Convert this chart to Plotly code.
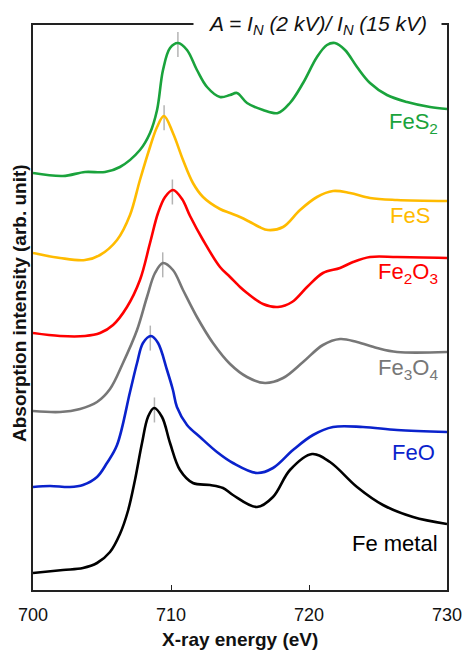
import numpy as np
import plotly.graph_objects as go

# ---------------- data ----------------
names = ["FeS<sub>2</sub>", "FeS", "Fe<sub>2</sub>O<sub>3</sub>", "Fe<sub>3</sub>O<sub>4</sub>", "FeO", "Fe metal"]
colors = ["#1aa33c", "#ffbb00", "#ff0000", "#777777", "#0a22cc", "#000000"]

energy_fes2 = [700.0, 702.17, 703.77, 705.22, 706.30, 707.75, 708.48, 708.99, 709.42, 709.93, 710.51,
               711.16, 711.88, 712.61, 713.55, 714.28, 714.78, 715.51, 716.67, 717.75, 718.62, 719.57,
               720.58, 721.30, 721.88, 722.61, 723.48, 724.42, 725.65, 727.10, 728.77, 730.0]
int_fes2 = [417, 414, 418, 418, 423, 440, 457, 480, 520, 542, 547,
            540, 520, 503, 493, 495, 497, 487, 480, 477, 487, 507,
            533, 545, 547, 540, 523, 507, 495, 488, 483, 481]

energy_fes = [700.0, 701.96, 703.77, 704.86, 706.09, 707.03, 707.75, 708.48, 708.99, 709.49, 710.14,
              710.87, 711.59, 712.32, 713.55, 714.28, 715.00, 715.72, 716.40, 717.03, 718.12, 719.35,
              720.58, 721.74, 722.97, 724.42, 726.38, 730.0]
int_fes = [337, 332, 330, 335, 350, 375, 410, 443, 463, 474, 457,
           430, 407, 393, 381, 377, 373, 368, 363, 360, 363, 380,
           393, 399, 397, 392, 390, 389]

energy_fe2o3 = [700.0, 701.96, 703.77, 704.86, 705.80, 706.81, 707.75, 708.48, 709.06, 709.57, 710.14,
                710.80, 711.38, 712.32, 713.55, 714.28, 715.00, 715.51, 716.67, 717.75, 718.77, 719.86,
                721.01, 722.25, 723.19, 724.42, 726.38, 730.0]
int_fe2o3 = [257, 254, 254, 257, 265, 283, 310, 347, 377, 393, 400,
             391, 374, 350, 323, 313, 303, 297, 286, 283, 288, 303,
             317, 322, 328, 333, 333, 332]

energy_fe3o4 = [700.0, 701.96, 703.41, 704.64, 705.58, 706.52, 707.54, 708.26, 708.84, 709.42, 710.14,
                710.87, 711.88, 713.04, 714.28, 715.51, 716.81, 718.12, 719.57, 721.01, 722.25, 723.48,
                724.93, 726.38, 730.0]
int_fe3o4 = [179, 178, 181, 188, 201, 227, 260, 293, 317, 327, 320,
             300, 273, 247, 226, 213, 207, 212, 228, 245, 251, 248,
             242, 238, 238]

energy_feo = [700.0, 701.23, 702.68, 703.62, 704.64, 705.36, 706.09, 707.03, 707.54, 707.97, 708.55,
              709.06, 709.71, 710.14, 710.43, 711.16, 712.10, 713.33, 714.49, 716.23, 717.39, 718.84,
              720.29, 721.74, 723.91, 726.38, 730.0]
int_feo = [103, 104, 103, 105, 113, 127, 145, 198, 227, 247, 254,
           247, 220, 200, 183, 165, 153, 138, 127, 117, 122, 140,
           155, 163, 163, 160, 158]

energy_fe = [700.0, 702.17, 703.62, 704.64, 705.58, 706.30, 706.88, 707.39, 707.90, 708.33, 708.77,
             709.35, 709.93, 710.65, 711.59, 712.83, 713.77, 714.49, 716.23, 717.39, 718.62, 720.22,
             721.52, 723.48, 725.36, 727.54, 730.0]
int_fe = [17, 20, 22, 27, 38, 56, 79, 110, 147, 173, 182,
          173, 147, 120, 107, 105, 102, 95, 83, 93, 120, 136,
          128, 103, 85, 73, 66]

# peak positions marked by the small grey ticks (eV)
peak_energy = [710.5, 709.5, 710.1, 709.4, 708.5, 708.8]

x_ticks = [700, 710, 720, 730]
x_tick_labels = ["700", "710", "720", "730"]

# ---------------- figure ----------------
energies = [energy_fes2, energy_fes, energy_fe2o3, energy_fe3o4, energy_feo, energy_fe]
intensities = [int_fes2, int_fes, int_fe2o3, int_fe3o4, int_feo, int_fe]

FONT = "Liberation Sans, Arial, Helvetica, sans-serif"
fig = go.Figure()

# peak marker ticks (drawn first, under the curves)
for e, i, pe in zip(energies, intensities, peak_energy):
    pi = float(np.interp(pe, e, i))
    fig.add_trace(go.Scatter(x=[pe, pe], y=[pi - 14, pi + 11], mode="lines",
                             line=dict(color="#b4b4b4", width=1.5), showlegend=False,
                             hoverinfo="skip"))

for e, i, n, c in zip(energies, intensities, names, colors):
    fig.add_trace(go.Scatter(x=e, y=i, mode="lines", name=n,
                             line=dict(color=c, width=2.6, shape="spline", smoothing=1.0),
                             showlegend=False))

# curve labels
label_x_px = [440, 432, 440, 440, 437, 440]
label_y = [467, 375, 317, 221, 138, 47]
L, R, T, B = 33, 17, 25, 62
W, H = 464, 652
pw = W - L - R
for n, c, lx, ly in zip(names, colors, label_x_px, label_y):
    fig.add_annotation(text=n, x=(lx - L) / pw, xref="paper", y=ly, yref="y",
                       xanchor="right", yanchor="middle", showarrow=False,
                       font=dict(family=FONT, size=22, color=c))

# top title box
fig.add_annotation(text="<i>A = I<sub>N</sub> (2 kV)/ I<sub>N</sub> (15 kV)</i>",
                   x=(317.5 - L) / pw, xref="paper", y=1.0, yref="paper",
                   xanchor="center", yanchor="middle", showarrow=False,
                   width=245, bgcolor="white",
                   font=dict(family=FONT, size=21, color="#111111"))

# axis titles
fig.add_annotation(text="<b>X-ray energy (eV)</b>", x=0.5, xref="paper",
                   y=(590 - 639) / (H - T - B), yref="paper", xanchor="center", yanchor="middle",
                   showarrow=False, font=dict(family=FONT, size=19, color="#111111"))
fig.add_annotation(text="<b>Absorption intensity (arb. unit)</b>", x=(19 - L) / pw, xref="paper",
                   y=(590 - 303) / (H - T - B), yref="paper", xanchor="center", yanchor="middle",
                   textangle=-90, showarrow=False,
                   font=dict(family=FONT, size=19, color="#111111"))

fig.update_layout(
    width=W, height=H, autosize=False,
    margin=dict(l=L, r=R, t=T, b=B, autoexpand=False),
    paper_bgcolor="white", plot_bgcolor="white",
    font=dict(family=FONT, color="#111111"),
    xaxis=dict(range=[700, 730], tickvals=x_ticks, ticktext=x_tick_labels,
               ticks="inside", ticklen=5, tickwidth=1.2, tickcolor="#222222",
               showline=True, linecolor="#222222", linewidth=1.5, mirror=True,
               showgrid=False, zeroline=False, tickfont=dict(size=18, family=FONT),
               ticklabelstandoff=8, automargin=False),
    yaxis=dict(range=[0, 565], showticklabels=False, ticks="",
               showline=True, linecolor="#222222", linewidth=1.5, mirror=True,
               showgrid=False, zeroline=False, automargin=False),
)

fig.write_html("out.html",
               config={"displayModeBar": False, "responsive": False},
               post_script="document.body.style.margin='0';document.body.style.padding='0';"
                           "document.body.style.overflow='hidden';"
                           "document.documentElement.style.overflow='hidden';")
